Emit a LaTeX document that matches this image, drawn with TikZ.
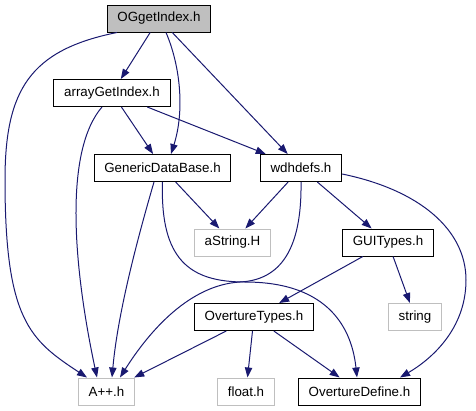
\documentclass[tikz,border=0pt]{standalone}
\usepackage{fontspec}
\setmainfont{Liberation Sans}
\usetikzlibrary{arrows.meta, calc}
\definecolor{edgeblue}{RGB}{25,25,112}
\definecolor{boxgrey}{RGB}{191,191,191}
\begin{document}
\begin{tikzpicture}[x=0.75pt, y=-0.75pt,
    file/.style={rectangle, draw=black, line width=0.75pt, inner xsep=7.7pt, minimum height=20.25pt, font=\fontsize{10}{12}\selectfont},
    sysfile/.style={file, draw=boxgrey},
    dep/.style={edgeblue, line width=0.75pt, -{Triangle[length=7.5pt, width=5.5pt]}}]
            \useasboundingbox (0,0) rectangle (476,411);
            \node [file, fill=boxgrey] (og) at (159,18.5) {OGgetIndex.h};
            \node [file] (arr) at (112,93) {arrayGetIndex.h};
            \node [file] (gdb) at (162.5,168) {GenericDataBase.h};
            \node [file] (wdh) at (301,168) {wdhdefs.h};
            \node [sysfile] (astr) at (232.5,242.5) {aString.H};
            \node [file] (gui) at (388,242.5) {GUITypes.h};
            \node [file] (ot) at (254,317) {OvertureTypes.h};
            \node [sysfile] (str) at (415,317) {string};
            \node [sysfile] (app) at (106.5,391.5) {A++.h};
            \node [sysfile] (flt) at (246,391.5) {float.h};
            \node [file] (od) at (359.5,391.5) {OvertureDefine.h};
            \path [draw, dep] (og) edge (arr);
            \path [draw, dep] (og) edge (wdh);
            \path [draw, dep] (arr) edge (gdb);
            \path [draw, dep] (arr) edge (wdh);
            \path [draw, dep] (gdb) edge (astr);
            \path [draw, dep] (wdh) edge (astr);
            \path [draw, dep] (wdh) edge (gui);
            \path [draw, dep] (gui) edge (ot);
            \path [draw, dep] (gui) edge (str);
            \path [draw, dep] (ot) edge (app);
            \path [draw, dep] (ot) edge (flt);
            \path [draw, dep] (ot) edge (od);
            \path [draw, dep] ($(og.south)+(7,0)$) .. controls (180,65) and (185,110) .. ($(gdb.north)+(8.5,0)$);
            \path [draw, dep] ($(og.south)+(-42,0)$) .. controls (30,50) and (5,90) .. (5,180) .. controls (5,320) and (30,340) .. ($(app.north)+(-19.5,0)$);
            \path [draw, dep] ($(arr.south)+(-10,0)$) .. controls (65,150) and (72,260) .. ($(app.north)+(-9.5,0)$);
            \path [draw, dep] ($(gdb.south)+(-8.5,0)$) .. controls (140,230) and (118,310) .. ($(app.north)+(5.5,0)$);
            \path [draw, dep] (gdb.south) .. controls (160,260) and (190,282) .. (245,282) .. controls (330,282) and (352,330) .. ($(od.north)+(-2.5,0)$);
            \path [draw, dep] (wdh.south) .. controls (302,250) and (280,280) .. (240,282) .. controls (190,285) and (150,330) .. ($(app.north)+(13.5,0)$);
            \path [draw, dep] ($(wdh.east)+(0,6)$) .. controls (420,190) and (466,230) .. (466,280) .. controls (466,330) and (430,360) .. ($(od.north)+(40.5,0)$);
        \end{tikzpicture}
\end{document}
